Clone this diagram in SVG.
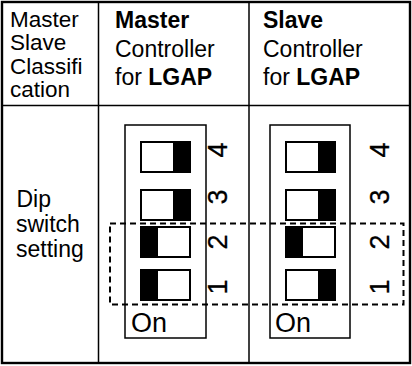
<svg xmlns="http://www.w3.org/2000/svg" width="412" height="366" viewBox="0 0 412 366">
<style>
text{font-family:"Liberation Sans",Arial,sans-serif;font-size:23px;fill:#000}
.b{font-weight:bold}
.grid{stroke:#000;stroke-width:1.5;fill:none}
.box{stroke:#000;stroke-width:1.5;fill:#fff}
.sw{stroke:#000;stroke-width:2;fill:#fff}
.dash{stroke:#000;stroke-width:2;fill:none;stroke-dasharray:6 4}
.num{font-size:27px;stroke:#000;stroke-width:0.3}
.on{font-size:27px}
.c1{font-size:22.5px}
</style>
<rect x="0" y="0" width="412" height="366" fill="#fff"/>
<g id="table">
<rect x="2" y="2" width="408" height="361" fill="none" stroke="#000" stroke-width="2.4"/>
<line class="grid" x1="98.5" y1="2" x2="98.5" y2="363"/>
<line class="grid" x1="249" y1="2" x2="249" y2="363"/>
<line class="grid" x1="2" y1="105.5" x2="410" y2="105.5"/>
</g>
<g id="header-classification">
<text class="c1" x="10" y="27">Master</text>
<text class="c1" x="10" y="50">Slave</text>
<text class="c1" x="10" y="73.5">Classifi</text>
<text class="c1" x="10" y="96.5">cation</text>
</g>
<g id="header-master">
<text x="115" y="28" class="b">Master</text>
<text x="115" y="57">Controller</text>
<text x="115" y="85">for <tspan class="b">LGAP</tspan></text>
</g>
<g id="header-slave">
<text x="263" y="28" class="b">Slave</text>
<text x="263" y="57">Controller</text>
<text x="263" y="85">for <tspan class="b">LGAP</tspan></text>
</g>
<g id="row-label">
<text x="16.5" y="207">Dip</text>
<text x="16" y="232">switch</text>
<text x="16" y="257">setting</text>
</g>
<g id="master-dip">
<rect class="box" x="125" y="125" width="81" height="213"/>
<rect class="sw" x="141" y="142" width="49" height="30"/>
<rect x="173" y="141" width="18" height="32"/>
<rect class="sw" x="141" y="190" width="49" height="30"/>
<rect x="173" y="189" width="18" height="32"/>
<rect class="sw" x="141" y="227" width="49" height="30"/>
<rect x="140" y="226" width="18" height="32"/>
<rect class="sw" x="141" y="270" width="49" height="30"/>
<rect x="140" y="269" width="18" height="32"/>
<text x="131" y="332" class="on">On</text>
<text class="num" text-anchor="middle" transform="translate(227,150) rotate(-90)">4</text>
<text class="num" text-anchor="middle" transform="translate(227,197) rotate(-90)">3</text>
<text class="num" text-anchor="middle" transform="translate(227,242) rotate(-90)">2</text>
<text class="num" text-anchor="middle" transform="translate(227,287) rotate(-90)">1</text>
</g>
<g id="slave-dip">
<rect class="box" x="270" y="125" width="80" height="213"/>
<rect class="sw" x="286" y="142" width="49" height="30"/>
<rect x="318" y="141" width="18" height="32"/>
<rect class="sw" x="286" y="190" width="49" height="30"/>
<rect x="318" y="189" width="18" height="32"/>
<rect class="sw" x="286" y="227" width="49" height="30"/>
<rect x="285" y="226" width="18" height="32"/>
<rect class="sw" x="286" y="270" width="49" height="30"/>
<rect x="318" y="269" width="18" height="32"/>
<text x="275" y="332" class="on">On</text>
<text class="num" text-anchor="middle" transform="translate(389,150) rotate(-90)">4</text>
<text class="num" text-anchor="middle" transform="translate(389,197) rotate(-90)">3</text>
<text class="num" text-anchor="middle" transform="translate(389,242) rotate(-90)">2</text>
<text class="num" text-anchor="middle" transform="translate(389,287) rotate(-90)">1</text>
</g>
<g id="connectors">
<rect class="dash" x="110" y="223.5" width="293.5" height="81"/>
</g>
</svg>
